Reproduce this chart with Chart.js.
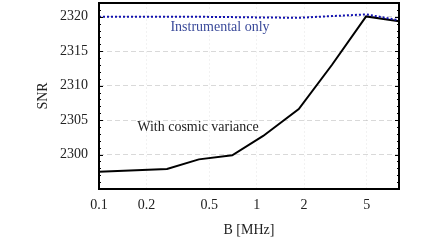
<!DOCTYPE html>
<html><head><meta charset="utf-8">
<script src="https://cdn.jsdelivr.net/npm/chart.js@4/dist/chart.umd.min.js"></script>
<style>html,body{margin:0;padding:0;background:#fff;}#wrap{width:432px;height:243px;}</style>
</head><body><div id="wrap"><canvas id="c" width="432" height="243"></canvas></div>
<script>
const bValues = [0.1, 0.27, 0.43, 0.70, 1.10, 1.85, 3.0, 4.95, 8.0];
const snrCosmic = [2297.5, 2297.9, 2299.3, 2299.9, 2302.7, 2306.6, 2313.0, 2320.05, 2319.35];
const snrInstr = [2320.0, 2320.0, 2320.0, 2319.95, 2319.9, 2319.85, 2320.1, 2320.35, 2319.5];
const xTicks = [0.1, 0.2, 0.5, 1, 2, 5];
const yTicks = [2300, 2305, 2310, 2315, 2320];
const labelCosmic = "With cosmic variance";
const labelInstr = "Instrumental only";

const serif = "'Liberation Serif','DejaVu Serif',serif";

const framePlugin = {
  id: 'frame',
  afterDraw(chart) {
    const {ctx, chartArea: a, scales} = chart;
    const ys = scales.y;
    ctx.save();
    ctx.strokeStyle = '#000';
    ctx.lineWidth = 1;
    for (let v = 2296; v <= 2321; v++) {
      const py = Math.round(ys.getPixelForValue(v)) + 0.5;
      const len = (v % 5 === 0) ? 4 : 2;
      ctx.beginPath();
      ctx.moveTo(a.left, py); ctx.lineTo(a.left + len, py);
      ctx.moveTo(a.right, py); ctx.lineTo(a.right - len, py);
      ctx.stroke();
    }
    ctx.lineWidth = 2;
    ctx.strokeRect(a.left, a.top, a.right - a.left, a.bottom - a.top);
    ctx.font = "14px " + serif;
    ctx.textAlign = 'center';
    ctx.textBaseline = 'middle';
    ctx.fillStyle = '#3a4a9a';
    ctx.fillText(labelInstr, 220, 27);
    ctx.fillStyle = '#222';
    ctx.fillText(labelCosmic, 198, 127);
    ctx.restore();
  }
};

new Chart(document.getElementById('c'), {
  type: 'scatter',
  data: {
    datasets: [
      {
        data: bValues.map((b, i) => ({x: b, y: snrCosmic[i]})),
        showLine: true, borderColor: '#000', borderWidth: 2, pointRadius: 0, tension: 0, order: 2
      },
      {
        data: bValues.map((b, i) => ({x: b, y: snrInstr[i]})),
        showLine: true, borderColor: '#1212b0', borderWidth: 2, borderDash: [2, 2], pointRadius: 0, tension: 0, order: 1
      }
    ]
  },
  options: {
    responsive: false,
    animation: false,
    devicePixelRatio: 1,
    layout: {padding: {left: 0, right: 33, top: 3, bottom: 0}},
    plugins: {legend: {display: false}, tooltip: {enabled: false}},
    scales: {
      x: {
        type: 'logarithmic', min: 0.1, max: 8,
        afterBuildTicks(s) { s.ticks = xTicks.map(v => ({value: v})); },
        afterFit(s) { s.height = 54; s.paddingLeft = 0; s.paddingRight = 0; },
        grid: {color: 'rgba(0,0,0,0.05)', drawTicks: false},
        border: {display: false, dash: [2, 2]},
        ticks: {
          color: '#222', font: {family: serif, size: 14}, padding: 8, maxRotation: 0, autoSkip: false,
          callback: (v) => String(v)
        },
        title: {display: true, text: 'B [MHz]', color: '#222', font: {family: serif, size: 14}, padding: {top: 3}}
      },
      y: {
        min: 2295, max: 2322,
        afterBuildTicks(s) { s.ticks = yTicks.map(v => ({value: v})); },
        afterFit(s) { s.width = 99; s.paddingTop = 0; s.paddingBottom = 0; },
        grid: {color: 'rgba(0,0,0,0.15)', drawTicks: false},
        border: {display: false, dash: [5, 3]},
        ticks: {color: '#222', font: {family: serif, size: 14}, padding: 11, callback: (v) => String(v)},
        title: {display: true, text: 'SNR', color: '#222', font: {family: serif, size: 14}, padding: {top: 35, bottom: 0}}
      }
    }
  },
  plugins: [framePlugin]
});
</script></body></html>
